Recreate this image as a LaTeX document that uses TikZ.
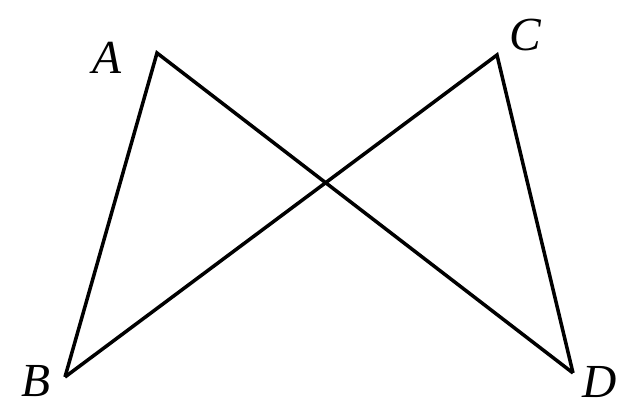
\documentclass[tikz,border=0pt]{standalone}
\usepackage{amsmath, amssymb}
\usepackage{fontspec}
\setmainfont{Liberation Serif}
\usepackage{tikz}
\usetikzlibrary{positioning}

\begin{document}
\begin{tikzpicture}[
          x=0.02cm, y=-0.02cm,
          edge/.style={draw, line width=2pt, line join=miter},
          vlabel/.style={inner sep=0pt, font=\fontsize{27}{32}\selectfont\itshape}
      ]
      \useasboundingbox (0,0) rectangle (627,408);

      \coordinate (A) at (157,53);
      \coordinate (B) at (65,377);
      \coordinate (C) at (497,55);
      \coordinate (D) at (573,373);

      \node[vlabel] (lA) at (107,58) {A};
      \node[vlabel] (lB) at (36,381) {B};
      \node[vlabel] (lC) at (525,35) {C};
      \node[vlabel] (lD) at (600,382) {D};

      \draw[edge] (B) -- (A) -- (D);
      \draw[edge] (B) -- (C) -- (D);

      \end{tikzpicture}
\end{document}
